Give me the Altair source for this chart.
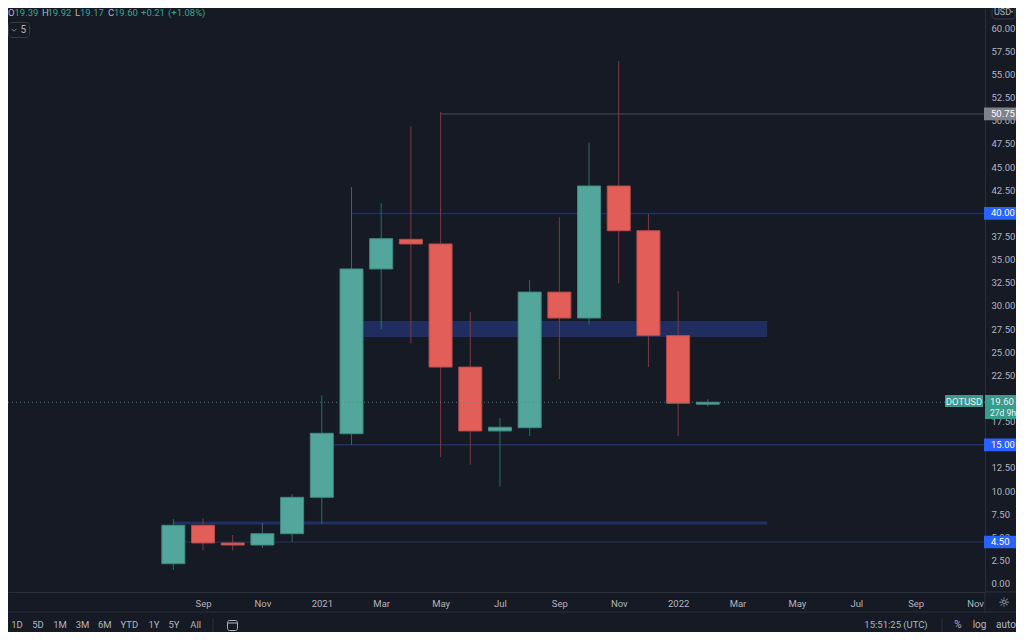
import json
import altair as alt
import pandas as pd

# ---------------- data ----------------
months = ["Aug 2020", "Sep 2020", "Oct 2020", "Nov 2020", "Dec 2020", "Jan 2021",
          "Feb 2021", "Mar 2021", "Apr 2021", "May 2021", "Jun 2021", "Jul 2021",
          "Aug 2021", "Sep 2021", "Oct 2021", "Nov 2021", "Dec 2021", "Jan 2022", "Feb 2022"]
opens = [2.16, 6.31, 4.40, 4.18, 5.40, 9.33, 16.2, 34.0, 37.2, 36.7, 23.4, 16.5,
         16.85, 31.5, 28.7, 42.96, 38.13, 26.8, 19.39]
highs = [6.99, 7.06, 5.26, 6.56, 9.69, 20.35, 42.85, 41.1, 49.4, 50.95, 29.35, 17.9,
         32.8, 39.6, 47.64, 56.46, 39.94, 31.6, 19.92]
lows = [1.48, 3.61, 3.60, 3.85, 4.50, 6.48, 15.0, 27.5, 25.97, 13.7, 12.86, 10.5,
        15.96, 22.1, 27.98, 32.45, 23.4, 15.96, 19.17]
closes = [6.31, 4.40, 4.18, 5.40, 9.33, 16.25, 34.0, 37.27, 36.7, 23.4, 16.5, 16.9,
          31.5, 28.7, 42.96, 38.13, 26.8, 19.49, 19.60]

time_tick_index = [1, 3, 5, 7, 9, 11, 13, 15, 17, 19, 21, 23, 25, 27]
time_tick_text = ["Sep", "Nov", "2021", "Mar", "May", "Jul", "Sep", "Nov", "2022",
                  "Mar", "May", "Jul", "Sep", "Nov"]
price_ticks = [0.0, 2.5, 5.0, 7.5, 10.0, 12.5, 15.0, 17.5, 20.0, 22.5, 25.0, 27.5, 30.0,
               32.5, 35.0, 37.5, 40.0, 42.5, 45.0, 47.5, 50.0, 52.5, 55.0, 57.5, 60.0]

# horizontal levels: (value, start bar index)
gray_level = 50.75
gray_level_start = 9
blue_levels = [40.0, 15.0, 4.5]
blue_level_starts = [6, 5, 0]
support_line = 6.56
support_span = [0, 20]
zone_low, zone_high = 26.65, 28.38
zone_span = [6, 20]
last_price = 19.60

header_ohlc = ["19.39", "19.92", "19.17", "19.60"]
header_change = ["+0.21", "(+1.08%)"]
ranges = ["1D", "5D", "1M", "3M", "6M", "YTD", "1Y", "5Y", "All"]

# ---------------- styling ----------------
BG = "#161a25"
TXT = "#b2b5be"
GREEN, GREEN_EDGE, GREEN_WICK = "#53a69b", "#3f8b81", "#2f6b64"
RED, RED_EDGE, RED_WICK = "#e15f58", "#b94c47", "#7d3b3e"
LEVEL_BLUE = "#1f2f64"
FONT = "Roboto"
W, H = 977, 584

df = pd.DataFrame({"i": list(range(len(months))), "month": months, "open": opens,
                   "high": highs, "low": lows, "close": closes})
one = pd.DataFrame({"a": [0]})

xscale = alt.Scale(domain=[-5.4, 27.1667], nice=False, zero=False)
yscale = alt.Scale(domain=[-0.897, 62.19], nice=False, zero=False)

label_arr = [""] * 28
for v, t in zip(time_tick_index, time_tick_text):
    label_arr[v] = t

x_axis = alt.Axis(values=time_tick_index, labelExpr=f"{json.dumps(label_arr)}[datum.value]",
                  title=None, grid=False, ticks=False, labelPadding=6, labelFlush=False,
                  labelOverlap=False, labelColor=TXT, labelFontSize=9.5, labelFont=FONT,
                  domainColor="#2a2e39", domainWidth=1)
y_axis = alt.Axis(orient="right", values=price_ticks, format=".2f", title=None, grid=False,
                  ticks=False, labelPadding=6, labelOverlap=False, labelColor=TXT,
                  labelFontSize=9.5, labelFont=FONT, domainColor="#2a2e39", domainWidth=1)


def XD(v):
    return alt.XDatum(v, axis=x_axis, scale=xscale)


def YD(v):
    return alt.YDatum(v, axis=y_axis, scale=yscale)


up = "datum.close >= datum.open"
base = alt.Chart(df)

wicks = base.mark_rule(strokeWidth=1).encode(
    x=alt.X("i:Q", scale=xscale, axis=x_axis),
    y=alt.Y("low:Q", scale=yscale, axis=y_axis),
    y2="high:Q",
    color=alt.condition(up, alt.value(GREEN_WICK), alt.value(RED_WICK)),
)
bodies = base.mark_bar(size=23, strokeWidth=1).encode(
    x=alt.X("i:Q", scale=xscale, axis=x_axis),
    y=alt.Y("open:Q", scale=yscale, axis=y_axis),
    y2="close:Q",
    fill=alt.condition(up, alt.value(GREEN), alt.value(RED)),
    stroke=alt.condition(up, alt.value(GREEN_EDGE), alt.value(RED_EDGE)),
    tooltip=["month", "open", "high", "low", "close"],
)

zone = alt.Chart(one).mark_rect(color="#1f2e5e").encode(
    x=XD(zone_span[0]), x2=alt.datum(zone_span[1]),
    y=YD(zone_low), y2=alt.datum(zone_high))

layers = [zone]
layers.append(alt.Chart(one).mark_rule(color="#3a3d47", strokeWidth=1.5).encode(
    x=XD(gray_level_start), x2=alt.value(W), y=YD(gray_level)))
for v, s in zip(blue_levels, blue_level_starts):
    layers.append(alt.Chart(one).mark_rule(color=LEVEL_BLUE if v != 4.5 else "#26335c",
                                           strokeWidth=1.5 if v != 4.5 else 1).encode(
        x=XD(s), x2=alt.value(W), y=YD(v)))
layers.append(alt.Chart(one).mark_rule(color="#1f2e63", strokeWidth=3).encode(
    x=XD(support_span[0]), x2=alt.datum(support_span[1]), y=YD(support_line)))

layers += [wicks, bodies]

# last price dotted line
layers.append(alt.Chart(one).mark_rule(color="#3c9a8c", strokeWidth=1, strokeDash=[1, 3],
                                       opacity=0.8).encode(
    x=alt.value(0), x2=alt.value(W), y=YD(last_price)))

# cover for the clipped time label under the price scale
layers.append(alt.Chart(one).mark_rect(color=BG).encode(
    x=alt.value(W + 1), x2=alt.value(W + 31), y=alt.value(H + 1), y2=alt.value(H + 19)))


# price scale labels
def level_box(v, fill, txt_color="#ffffff"):
    box = alt.Chart(one).mark_rect(color=fill).encode(
        x=alt.value(W - 1), x2=alt.value(W + 32),
        y=YD(v + 0.68), y2=alt.datum(v - 0.68))
    txt = alt.Chart(one).mark_text(align="left", baseline="middle", font=FONT, fontSize=9.5,
                                   color=txt_color).encode(
        x=alt.value(W + 6), y=YD(v), text=alt.value(f"{v:.2f}"))
    return [box, txt]


layers += level_box(gray_level, "#7f828b")
for v in blue_levels:
    layers += level_box(v, "#2962ff")

# DOTUSD + last price boxes
layers.append(alt.Chart(one).mark_rect(color="#3c9a8c").encode(
    x=alt.value(W - 40), x2=alt.value(W - 2),
    y=YD(last_price + 0.79), y2=alt.datum(last_price - 0.51)))
layers.append(alt.Chart(one).mark_text(align="center", baseline="middle", font=FONT, fontSize=9.5,
                                       color="#e8f3f1").encode(
    x=alt.value(W - 21), y=YD(last_price), text=alt.value("DOTUSD")))
layers.append(alt.Chart(one).mark_rect(color="#3c9a8c").encode(
    x=alt.value(W), x2=alt.value(W + 35),
    y=YD(last_price + 0.79), y2=alt.datum(last_price - 1.8)))
layers.append(alt.Chart(one).mark_text(align="left", baseline="middle", font=FONT, fontSize=9.5,
                                       color="#e8f3f1").encode(
    x=alt.value(W + 5), y=YD(last_price), text=alt.value(f"{last_price:.2f}")))
layers.append(alt.Chart(one).mark_text(align="left", baseline="middle", font=FONT, fontSize=8.5,
                                       color="#e8f3f1", dy=11).encode(
    x=alt.value(W + 5), y=YD(last_price), text=alt.value("27d 9h")))


# ---------------- UI decorations ----------------
def txt(s, x, y, color=TXT, size=9.5, align="left", font=FONT):
    return alt.Chart(one).mark_text(align=align, baseline="middle", font=font, fontSize=size,
                                    color=color).encode(x=alt.value(x), y=alt.value(y),
                                                        text=alt.value(s))


def hline(x1, x2, y, color="#2a2e39"):
    return alt.Chart(one).mark_rule(color=color, strokeWidth=1).encode(
        x=alt.value(x1), x2=alt.value(x2), y=alt.value(y))


def vline(x, y1, y2, color="#2a2e39"):
    return alt.Chart(one).mark_rule(color=color, strokeWidth=1).encode(
        x=alt.value(x), y=alt.value(y1), y2=alt.value(y2))


TEAL_TXT = "#3da393"
hx = [0, 6.5, 34, 39.5, 67, 72, 100, 106]
for k, letter in enumerate(["O", "H", "L", "C"]):
    layers.append(txt(letter, hx[2 * k], 5))
    layers.append(txt(header_ohlc[k], hx[2 * k + 1], 5, color=TEAL_TXT))
layers.append(txt(header_change[0], 133, 5, color=TEAL_TXT))
layers.append(txt(header_change[1], 160, 5, color=TEAL_TXT))

# "v 5" box
layers.append(alt.Chart(one).mark_rect(fill=BG, stroke="#363a45", strokeWidth=1, cornerRadius=3).encode(
    x=alt.value(0.5), x2=alt.value(21.5), y=alt.value(14.5), y2=alt.value(29.5)))
layers.append(alt.Chart(one).mark_point(shape="M-1,-0.5L0,0.5L1,-0.5", size=25, filled=False,
                                        color=TXT, strokeWidth=1).encode(
    x=alt.value(6), y=alt.value(22)))
layers.append(txt("5", 12.5, 22, size=10))

# USD box top right
layers.append(alt.Chart(one).mark_rect(fill=BG, stroke="#363a45", strokeWidth=1, cornerRadius=3).encode(
    x=alt.value(W + 7), x2=alt.value(W + 30), y=alt.value(-1), y2=alt.value(11)))
layers.append(txt("USD", W + 9, 4, size=9))
layers.append(alt.Chart(one).mark_point(shape="triangle-down", size=8, filled=True, color=TXT).encode(
    x=alt.value(W + 27), y=alt.value(4)))

# separators
layers.append(hline(W, W + 31, H))
layers.append(hline(0, W + 31, H + 20))
layers.append(vline(W, H, H + 20))
layers.append(vline(205, H + 26, H + 40))
layers.append(vline(934, H + 26, H + 40))

# settings icon
layers.append(txt("\u263c", W + 19, H + 11, size=13, align="center", font="DejaVu Sans"))

# bottom toolbar
TY = H + 33
range_x = [9, 30, 52, 74.5, 96.7, 121.3, 146, 166, 187.7]
for s, x in zip(ranges, range_x):
    layers.append(txt(s, x, TY, align="center"))
layers.append(alt.Chart(one).mark_rect(fill=BG, stroke=TXT, strokeWidth=1, cornerRadius=2).encode(
    x=alt.value(219.5), x2=alt.value(229.5), y=alt.value(TY - 4.5), y2=alt.value(TY + 5.5)))
layers.append(hline(219.5, 229.5, TY - 2, color=TXT))
layers.append(txt("15:51:25 (UTC)", 888, TY, align="center"))
layers.append(txt("%", 950, TY, align="center", size=10))
layers.append(txt("log", 971.5, TY, align="center", size=10))
layers.append(txt("auto", 998, TY, align="center", size=10))

chart = alt.layer(*layers).properties(
    width=W, height=H,
    padding={"left": 0, "top": 0, "right": 31, "bottom": 40},
    autosize=alt.AutoSizeParams(type="none"),
    background=BG,
).configure_view(stroke=None)

chart.save("out.html", embed_options={"renderer": "svg", "actions": False})
